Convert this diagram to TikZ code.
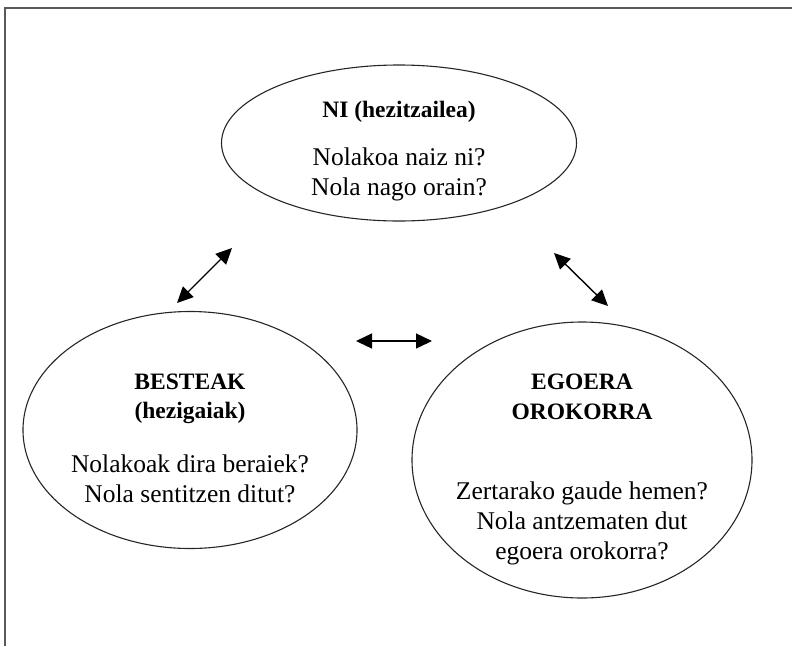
\documentclass[tikz,border=0pt]{standalone}
\usepackage{fontspec}
\setmainfont{Liberation Serif}
\usetikzlibrary{shapes.geometric,arrows.meta}
\begin{document}
\begin{tikzpicture}[x=1pt,y=-1pt,
  oval/.style={draw=black!85,line width=1.1pt,ellipse,inner sep=0pt},
  txt/.style={anchor=base,inner sep=0pt,font=\fontsize{25.5}{30}\selectfont},
  btxt/.style={txt,font=\fontsize{23.5}{28}\selectfont\bfseries},
  dbl/.style={{Triangle[length=16pt,width=15pt]}-{Triangle[length=16pt,width=15pt]},line width=1.4pt}]
\useasboundingbox (0,0) rectangle (792,646);
\draw[line width=2pt,black!65] (5,646) -- (5,8) -- (792,8);
% ellipses
\node[oval,minimum width=355pt,minimum height=156pt] (top) at (399,143) {};
\node[oval,minimum width=334pt,minimum height=237pt] (left) at (190,430) {};
\node[oval,minimum width=340pt,minimum height=276pt] (right) at (582,460) {};
% texts
\node[btxt] (t1) at (399,117) {NI (hezitzailea)};
\node[txt] (t2) at (399,165) {Nolakoa naiz ni?};
\node[txt] (t3) at (399,195) {Nola nago orain?};
\node[btxt] (l1) at (190,389) {BESTEAK};
\node[btxt] (l2) at (190,418) {(hezigaiak)};
\node[txt] (l3) at (190,472) {Nolakoak dira beraiek?};
\node[txt] (l4) at (190,502) {Nola sentitzen ditut?};
\node[btxt] (r1) at (582,389) {EGOERA};
\node[btxt] (r2) at (582,419) {OROKORRA};
\node[txt] (r3) at (582,499) {Zertarako gaude hemen?};
\node[txt] (r4) at (582,529) {Nola antzematen dut};
\node[txt] (r5) at (582,559) {egoera orokorra?};
% arrows
\coordinate (a1) at (177,303);
\coordinate (a2) at (232,248);
\coordinate (b1) at (554,253);
\coordinate (b2) at (608,306);
\coordinate (c1) at (356,341);
\coordinate (c2) at (432,341);
\draw[dbl] (a1) -- (a2);
\draw[dbl] (b1) -- (b2);
\draw[dbl] (c1) -- (c2);
\end{tikzpicture}
\end{document}
